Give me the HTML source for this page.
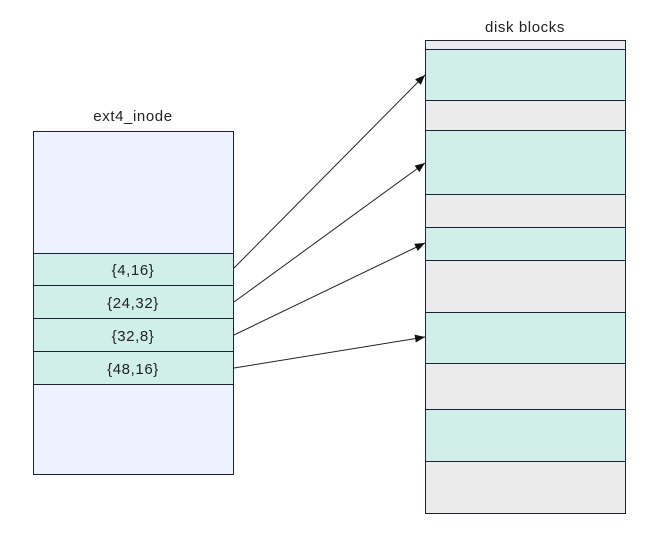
<!DOCTYPE html>
<html><head><style>
html,body{margin:0;padding:0;background:#fff;}
body{width:660px;height:538px;position:relative;overflow:hidden;font-family:"Liberation Sans",sans-serif;}
</style></head><body>
<svg width="660" height="538" xmlns="http://www.w3.org/2000/svg" style="position:absolute;left:0;top:0">
<defs><marker id="a" markerWidth="10" markerHeight="8" refX="10" refY="4" orient="auto" markerUnits="userSpaceOnUse"><path d="M0,0 L10,4 L0,8 z" fill="#111"/></marker></defs>
<g font-family="Liberation Sans, sans-serif" font-size="15" letter-spacing="0.6" fill="#222" text-anchor="middle">
<text x="133" y="121">ext4_inode</text>
<text x="525" y="32">disk blocks</text>
</g>
<g stroke="#1a2238" stroke-width="1">
<rect x="33.5" y="131.5" width="200" height="343" fill="#eef2fe"/>
<rect x="33.5" y="253.5" width="200" height="131" fill="#d0efe8"/>
<line x1="33.5" y1="285.5" x2="233.5" y2="285.5"/>
<line x1="33.5" y1="318.5" x2="233.5" y2="318.5"/>
<line x1="33.5" y1="351.5" x2="233.5" y2="351.5"/>
<rect x="425.5" y="40.5" width="200" height="473" fill="#ebebeb"/>
<rect x="425.5" y="49.5" width="200" height="51" fill="#d0efe8"/>
<rect x="425.5" y="130.5" width="200" height="64" fill="#d0efe8"/>
<rect x="425.5" y="227.5" width="200" height="33" fill="#d0efe8"/>
<rect x="425.5" y="312.5" width="200" height="51" fill="#d0efe8"/>
<rect x="425.5" y="409.5" width="200" height="52" fill="#d0efe8"/>
</g>
<g font-family="Liberation Sans, sans-serif" font-size="15" letter-spacing="0.6" fill="#222" text-anchor="middle">
<text x="133" y="275">{4,16}</text>
<text x="133" y="308">{24,32}</text>
<text x="133" y="341">{32,8}</text>
<text x="133" y="374">{48,16}</text>
</g>
<g stroke="#222" stroke-width="1" fill="none" marker-end="url(#a)">
<line x1="234" y1="268" x2="425" y2="75"/>
<line x1="234" y1="302" x2="425" y2="163"/>
<line x1="234" y1="335" x2="425" y2="243"/>
<line x1="234" y1="368" x2="425" y2="337"/>
</g>
</svg>
</body></html>
